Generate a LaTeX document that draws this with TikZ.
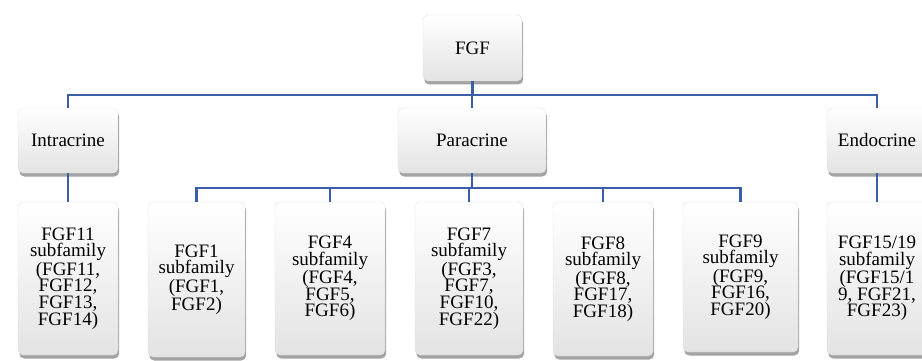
\documentclass[tikz,border=0pt]{standalone}
\usepackage{fontspec}
\setmainfont{Liberation Serif}
\newfontfamily\boxfont{Liberation Serif}
\usetikzlibrary{shadows}
\definecolor{linkblue}{HTML}{3B5EA8}
\tikzset{
  box/.style={rounded corners=5pt, draw=black!12, line width=0.4pt,
    top color=white, bottom color=black!11, shading angle=0,
    drop shadow={shadow xshift=1.2pt, shadow yshift=-3.5pt, fill=black!60, opacity=0.6},
    align=center, inner sep=2pt, font=\boxfont\fontsize{19}{16.7}\selectfont,
    text=black},
  conn/.style={draw=linkblue, line width=2.1pt}
}
\begin{document}
\begin{tikzpicture}[x=1pt,y=-1pt]
\useasboundingbox (0,0) rectangle (922,361);
% top level
\node[box, minimum width=99pt, minimum height=66pt] (fgf) at (472.5,48) {FGF};
% second level
\node[box, minimum width=100pt, minimum height=65pt] (intra) at (68,140.5) {Intracrine};
\node[box, minimum width=148pt, minimum height=65pt] (para) at (472,140.5) {Paracrine};
\node[box, minimum width=100pt, minimum height=65pt] (endo) at (877,140.5) {Endocrine};
% third level
\node[box, minimum width=100pt, minimum height=153pt] (f11) at (68,278.5) {FGF11\\subfamily\\(FGF11,\\FGF12,\\FGF13,\\FGF14)};
\node[box, minimum width=97pt, minimum height=155pt] (f1) at (196.5,279.5) {FGF1\\subfamily\\(FGF1,\\FGF2)};
\node[box, minimum width=110pt, minimum height=153pt] (f4) at (330,278.5) {FGF4\\subfamily\\(FGF4,\\FGF5,\\FGF6)};
\node[box, minimum width=108pt, minimum height=153pt] (f7) at (469,278.5) {FGF7\\subfamily\\(FGF3,\\FGF7,\\FGF10,\\FGF22)};
\node[box, minimum width=100pt, minimum height=154pt] (f8) at (603,279) {FGF8\\subfamily\\(FGF8,\\FGF17,\\FGF18)};
\node[box, minimum width=115pt, minimum height=150pt] (f9) at (740.5,277) {FGF9\\subfamily\\(FGF9,\\FGF16,\\FGF20)};
\node[box, minimum width=100pt, minimum height=153pt] (f15) at (877,278.5) {FGF15/19\\subfamily\\(FGF15/1\\9, FGF21,\\FGF23)};
% bus coordinates
\coordinate (bus1) at (472,95);
\coordinate (bus2) at (472,188);
% connectors, level 1
\draw[conn] (fgf.south) -- (fgf.south |- bus1);
\draw[conn] (intra.north) |- (endo.north |- bus1) -- (endo.north);
\draw[conn] (para.north) -- (para.north |- bus1);
% intracrine / endocrine
\draw[conn] (intra.south) -- (f11.north);
\draw[conn] (endo.south) -- (f15.north);
% paracrine bus
\draw[conn] (para.south) -- (para.south |- bus2);
\draw[conn] (f1.north) |- (f9.north |- bus2) -- (f9.north);
\draw[conn] (f4.north) -- (f4.north |- bus2);
\draw[conn] (f7.north) -- (f7.north |- bus2);
\draw[conn] (f8.north) -- (f8.north |- bus2);
\end{tikzpicture}
\end{document}
